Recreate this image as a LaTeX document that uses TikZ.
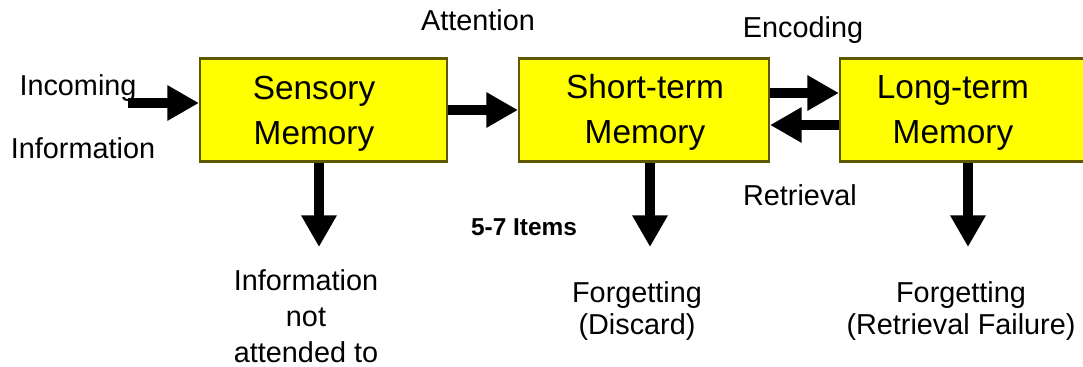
\documentclass[tikz,border=0pt]{standalone}
\usepackage{fontspec}
\setmainfont{Liberation Sans}
\usetikzlibrary{arrows.meta}
\definecolor{boxyellow}{RGB}{255,255,0}
\definecolor{boxedge}{RGB}{95,88,0}

\begin{document}
\begin{tikzpicture}[x = 0.02cm, y = -0.02cm,
  memory/.style = {draw = boxedge, line width = 1.2pt, fill = boxyellow, minimum height = 2.06cm, inner sep = 0pt},
  memtext/.style = {align = center, inner sep = 0pt, font = \fontsize{19}{25.5}\selectfont},
  textlabel/.style = {align = center, font = \fontsize{16.4}{20}\selectfont},
  bigarrow/.style = {line width = 5.7pt, -{Triangle[length = 18pt, width = 19pt]}}]
\clip (0,0) rectangle (1083,366);

\node[memory, minimum width = 4.94cm] (sensory) at (323.5,110) {};
\node[memory, minimum width = 5cm] (short) at (644,110) {};
\node[memory, minimum width = 5cm] (long) at (965,110) {};
\node[memtext] (sensorytext) at (314,114) {Sensory\\Memory};
\node[memtext] (shorttext) at (645,112) {Short-term\\Memory};
\node[memtext] (longtext) at (953,113) {Long-term\\Memory};

\node[textlabel] (incoming) at (78,88) {Incoming};
\node[textlabel] (information) at (83,148) {Information};
\node[textlabel] (attention) at (478,20) {Attention};
\node[textlabel] (encoding) at (803,30) {Encoding};
\node[textlabel] (retrieval) at (800,195) {Retrieval};
\node[textlabel, font = \bfseries\fontsize{13.9}{16}\selectfont] (items) at (524,227) {5-7 Items};
\node[textlabel, font = \fontsize{16.4}{20.4}\selectfont] (notatt) at (306,316) {Information\\not\\attended to};
\node[textlabel, font = \fontsize{16.4}{18.7}\selectfont] (discard) at (637,311) {Forgetting\\(Discard)};
\node[textlabel, font = \fontsize{16.4}{18.7}\selectfont] (failure) at (961,311) {Forgetting\\(Retrieval Failure)};

\coordinate (inc) at (128,103);
\coordinate (att) at (0,110);
\coordinate (enc) at (0,93);
\coordinate (ret) at (0,125);
\coordinate (downs) at (319,247);
\coordinate (downst) at (650,247);
\coordinate (downlt) at (968,247);

\draw[bigarrow] (inc) -- (inc -| sensory.west);
\draw[bigarrow] (sensory.east |- att) -- (short.west |- att);
\draw[bigarrow] (short.east |- enc) -- (long.west |- enc);
\draw[bigarrow] (long.west |- ret) -- (short.east |- ret);
\draw[bigarrow] (sensory.south -| downs) -- (downs);
\draw[bigarrow] (short.south -| downst) -- (downst);
\draw[bigarrow] (long.south -| downlt) -- (downlt);
\end{tikzpicture}
\end{document}
